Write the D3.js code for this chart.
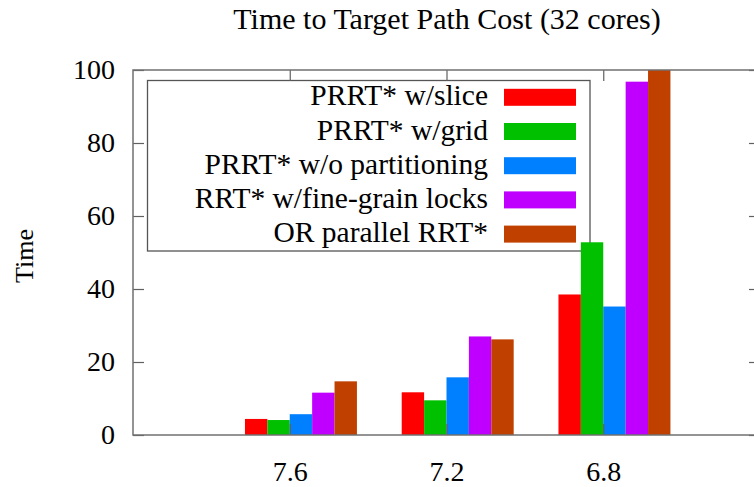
<!DOCTYPE html>
<html><head><meta charset="utf-8">
<script src="https://cdn.jsdelivr.net/npm/d3@7"></script>
<style>
body{margin:0;background:#fff;}
text{font-family:"Liberation Serif","Times New Roman",serif;fill:#000;}
</style></head>
<body><svg id="c" width="754" height="487"></svg>
<script>
const title = "Time to Target Path Cost (32 cores)";
const yLabel = "Time";
const categories = ["7.6", "7.2", "6.8"];
const seriesNames = ["PRRT* w/slice", "PRRT* w/grid", "PRRT* w/o partitioning", "RRT* w/fine-grain locks", "OR parallel RRT*"];
const seriesColors = ["#ff0000", "#00c000", "#0080ff", "#c000ff", "#c04000"];
const slice    = [4.4, 11.7, 38.5];
const grid     = [4.1, 9.5, 52.8];
const nopart   = [5.7, 15.8, 35.2];
const locks    = [11.6, 27.0, 96.8];
const orpar    = [14.7, 26.2, 100];
const seriesValues = [slice, grid, nopart, locks, orpar];
const yTicks = [0, 20, 40, 60, 80, 100];

const svg = d3.select("#c");
const L = 133, R = 760, T = 70, B = 435;
const x = d3.scaleLinear().domain([-1, categories.length]).range([L, R]);
const y = d3.scaleLinear().domain([0, 100]).range([B, T]);
const nS = seriesNames.length, gap = 2, bw = 1 / (nS + gap);

// title
svg.append("text").attr("x", 447).attr("y", 29).attr("text-anchor", "middle")
  .style("font-size", "30px").text(title);
// y label
svg.append("text").attr("transform", "translate(33,256) rotate(-90)")
  .attr("text-anchor", "middle").style("font-size", "26px").text(yLabel);

// legend (no fill)
const lg = svg.append("g");
lg.append("rect").attr("x", 147.5).attr("y", 80.5).attr("width", 442.5).attr("height", 170.5)
  .attr("fill", "none").attr("stroke", "#555").attr("stroke-width", 1.3);
seriesNames.forEach((n, j) => {
  const cy = 97.3 + j * 34.2;
  lg.append("rect").attr("x", 504).attr("y", cy - 8.5).attr("width", 72).attr("height", 17)
    .attr("fill", seriesColors[j]);
  lg.append("text").attr("x", 488).attr("y", cy + 8).attr("text-anchor", "end")
    .style("font-size", "29.5px").text(n);
});

// bars
seriesValues.forEach((vals, j) => {
  svg.append("g").selectAll("rect").data(vals).join("rect")
    .attr("x", (d, i) => x(i + (j - 2) * bw))
    .attr("width", (d, i) => x(i + (j - 1) * bw) - x(i + (j - 2) * bw))
    .attr("y", d => y(Math.min(d, 100)))
    .attr("height", d => B - y(Math.min(d, 100)))
    .attr("fill", seriesColors[j]);
});

// axes
const tickCol = "#606060";
const ax = [];
ax.push(svg.append("g").attr("transform", `translate(${L},0)`)
  .call(d3.axisLeft(y).tickValues(yTicks).tickSize(-11).tickPadding(18)));
ax.push(svg.append("g").attr("transform", `translate(${R},0)`)
  .call(d3.axisRight(y).tickValues(yTicks).tickSize(-11).tickFormat("")));
ax.push(svg.append("g").attr("transform", `translate(0,${B})`)
  .call(d3.axisBottom(x).tickValues(categories.map((c, i) => i)).tickSize(-11).tickPadding(26)
    .tickFormat(i => categories[i])));
ax.push(svg.append("g").attr("transform", `translate(0,${T})`)
  .call(d3.axisTop(x).tickValues(categories.map((c, i) => i)).tickSize(-11).tickFormat("")));
ax.forEach(g => {
  g.select(".domain").remove();
  g.selectAll("line").attr("stroke", tickCol).attr("stroke-width", 1.2);
  g.selectAll("text").style("font-size", "28px").style("font-family", '"Liberation Serif",serif').attr("fill", "#000");
});
// frame
svg.append("rect").attr("x", L).attr("y", T).attr("width", R - L).attr("height", B - T)
  .attr("fill", "none").attr("stroke", "#707070").attr("stroke-width", 1.5);
</script></body></html>
